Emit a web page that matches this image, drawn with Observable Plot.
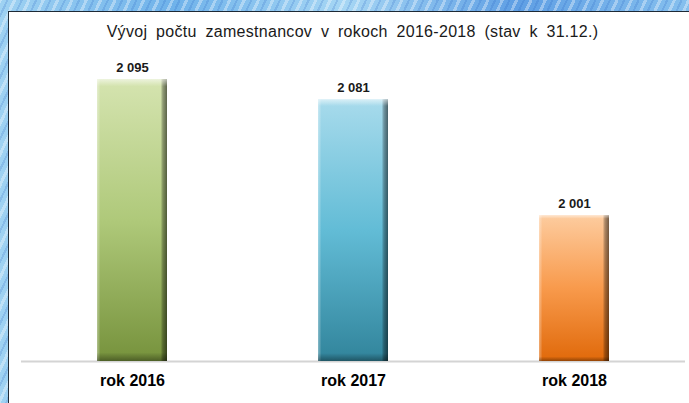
<!DOCTYPE html>
<html>
<head>
<meta charset="utf-8">
<script src="https://cdn.jsdelivr.net/npm/d3@7"></script>
<script src="https://cdn.jsdelivr.net/npm/@observablehq/plot@0.6"></script>
<style>
html, body { margin: 0; padding: 0; }
body {
  width: 689px; height: 403px; overflow: hidden; position: relative;
  font-family: "Liberation Sans", Arial, sans-serif;
  background:
    repeating-linear-gradient(-65deg, rgba(255,255,255,0.35) 0 3px, rgba(255,255,255,0) 3px 7px, rgba(30,90,190,0.18) 7px 9px, rgba(255,255,255,0) 9px 13px),
    linear-gradient(90deg, #9fd2f2 0%, #6fb2ea 25%, #a6d6f4 50%, #5f9fe4 75%, #86c0ee 100%);
}
#panel {
  position: absolute; left: 8px; top: 11px; right: 0; bottom: 0;
  background: #fff; border-left: 1.5px solid #1e2a36; border-top: 1.5px solid #1e2a36;
}
#title {
  position: absolute; left: 16px; width: 673px; top: 23px; text-align: center;
  font-size: 16px; color: #1a1a1a; word-spacing: 4px; letter-spacing: 0.3px; white-space: nowrap;
}
#chart { position: absolute; left: 0; top: 0; }
</style>
</head>
<body>
<div id="panel"></div>
<div id="title">Vývoj počtu zamestnancov v rokoch 2016-2018 (stav k 31.12.)</div>
<div id="chart"></div>
<script>
const categories = ["rok 2016", "rok 2017", "rok 2018"];
const values = [2095, 2081, 2001];
const yDomain = [1900, 2100];

// gradient stops per bar: [top, middle, bottom]
const palette = [
  ["#d5e4b0", "#afc97a", "#76923c"],
  ["#a8dbec", "#62bcd6", "#31849b"],
  ["#fdcc9f", "#f89a4c", "#e0690a"]
];

const fmt = d3.formatLocale({decimal: ",", thousands: " ", grouping: [3], currency: ["", " €"]}).format(",d");

const data = categories.map((c, i) => ({category: c, value: values[i], grad: `url(#barGrad${i})`}));

const defs = () => {
  const d = d3.create("svg:defs");
  palette.forEach((p, i) => {
    const g = d.append("linearGradient").attr("id", `barGrad${i}`).attr("x1", 0).attr("y1", 0).attr("x2", 0).attr("y2", 1);
    g.append("stop").attr("offset", "0%").attr("stop-color", p[0]);
    g.append("stop").attr("offset", "50%").attr("stop-color", p[1]);
    g.append("stop").attr("offset", "100%").attr("stop-color", p[2]);
  });
  const h = d.append("linearGradient").attr("id", "bevelH").attr("x1", 0).attr("y1", 0).attr("x2", 1).attr("y2", 0);
  h.append("stop").attr("offset", "0%").attr("stop-color", "#fff").attr("stop-opacity", 0.4);
  h.append("stop").attr("offset", "5%").attr("stop-color", "#fff").attr("stop-opacity", 0);
  h.append("stop").attr("offset", "91%").attr("stop-color", "#000").attr("stop-opacity", 0);
  h.append("stop").attr("offset", "94%").attr("stop-color", "#000").attr("stop-opacity", 0.3);
  h.append("stop").attr("offset", "100%").attr("stop-color", "#000").attr("stop-opacity", 0.55);
  const v = d.append("linearGradient").attr("id", "bevelV").attr("x1", 0).attr("y1", 0).attr("x2", 0).attr("y2", 1);
  v.append("stop").attr("offset", "0%").attr("stop-color", "#fff").attr("stop-opacity", 0.55);
  v.append("stop").attr("offset", "2.5%").attr("stop-color", "#fff").attr("stop-opacity", 0);
  v.append("stop").attr("offset", "97%").attr("stop-color", "#000").attr("stop-opacity", 0);
  v.append("stop").attr("offset", "100%").attr("stop-color", "#000").attr("stop-opacity", 0.35);
  return d.node();
};

const chart = Plot.plot({
  width: 689,
  height: 403,
  marginLeft: 21,
  marginRight: 4,
  marginTop: 72,
  marginBottom: 42,
  style: {background: "transparent", fontFamily: "Liberation Sans, Arial, sans-serif", color: "#000", overflow: "visible"},
  x: {domain: categories, paddingInner: 0.684, paddingOuter: 0.342, axis: null},
  y: {domain: yDomain, axis: null},
  color: {type: "identity"},
  marks: [
    defs,
    Plot.ruleY([yDomain[0]], {stroke: "#d4d4d4", strokeWidth: 2}),
    Plot.barY(data, {x: "category", y1: yDomain[0], y2: "value", fill: "grad"}),
    Plot.barY(data, {x: "category", y1: yDomain[0], y2: "value", fill: "url(#bevelH)"}),
    Plot.barY(data, {x: "category", y1: yDomain[0], y2: "value", fill: "url(#bevelV)"}),
    Plot.text(data, {x: "category", y: "value", text: d => fmt(d.value), dy: -8, lineAnchor: "bottom", fontWeight: "bold", fontSize: 13, fill: "#1a1a1a"}),
    Plot.axisX({tickSize: 0, tickPadding: 13, fontSize: 16, fontWeight: "bold", label: null, fill: "#000"})
  ]
});
document.getElementById("chart").appendChild(chart);
</script>
</body>
</html>
